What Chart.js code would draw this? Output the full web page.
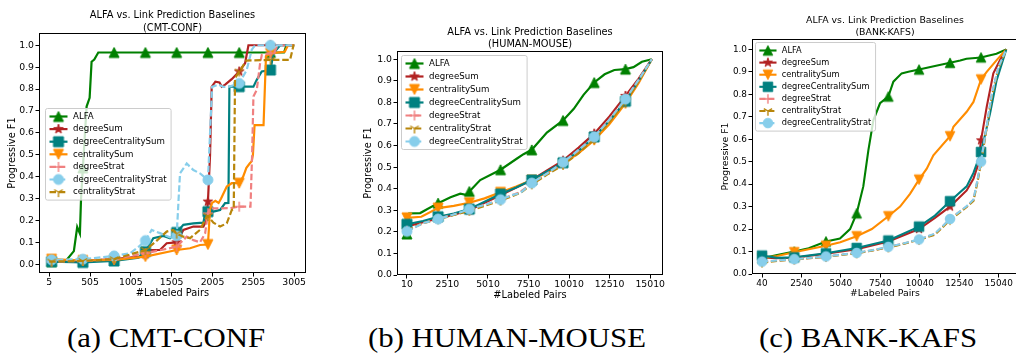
<!DOCTYPE html>
<html>
<head>
<meta charset="utf-8">
<title>ALFA vs. Link Prediction Baselines</title>
<script src="https://cdn.jsdelivr.net/npm/chart.js@4.4.1/dist/chart.umd.min.js"></script>
<style>
  html, body { margin: 0; padding: 0; background: #fff; }
  body { position: relative; width: 1016px; height: 354px; overflow: hidden; }
  canvas { position: absolute; top: 0; }
  .caption {
    position: absolute; top: 323px;
    font-family: "Liberation Serif", "DejaVu Serif", serif; font-size: 28px; line-height: 30px;
    color: #000; white-space: nowrap;
    transform: translateX(-50%) scaleX(1.1); transform-origin: center;
  }
</style>
</head>
<body>
<canvas id="cmt" width="336" height="310" style="left:0"></canvas>
<canvas id="hm" width="336" height="310" style="left:340px"></canvas>
<canvas id="bk" width="370" height="310" style="left:676px"></canvas>
<div class="caption" style="left:166px">(a) CMT-CONF</div>
<div class="caption" style="left:507px">(b) HUMAN-MOUSE</div>
<div class="caption" style="left:868px">(c) BANK-KAFS</div>
<script>
// ---------- data: [#labeled pairs, progressive F1] ----------
const f1Ticks = [0, 0.1, 0.2, 0.3, 0.4, 0.5, 0.6, 0.7, 0.8, 0.9, 1.0];

// CMT-CONF
const cmtXTicks = [5, 505, 1005, 1505, 2005, 2505, 3005];
const cmtMarkX = [34, 417, 800, 1183, 1566, 1949, 2332, 2715];
const cmtAlfa = [[5,0.012],[34,0.012],[218,0.02],[307,0.06],[348,0.17],[381,0.14],[395,0.30],[417,0.44],[463,0.72],[500,0.76],[524,0.925],[557,0.935],[606,0.967],[800,0.967],[1183,0.967],[1566,0.967],[1949,0.967],[2332,0.967],[2715,0.967],[2880,0.967],[2910,1.0],[3005,1.0]];
const cmtDegreeSum = [[5,0.012],[34,0.015],[417,0.015],[800,0.023],[1117,0.035],[1183,0.045],[1239,0.065],[1362,0.065],[1444,0.096],[1566,0.1],[1648,0.157],[1771,0.172],[1893,0.172],[1930,0.2],[1949,0.286],[1975,0.5],[1995,0.81],[2040,0.834],[2090,0.83],[2118,0.811],[2160,0.82],[2240,0.845],[2332,0.88],[2404,0.918],[2445,1.0],[2715,1.0],[3005,1.0]];
const cmtDegCentSum = [[5,0.01],[34,0.012],[417,0.008],[800,0.015],[1100,0.03],[1183,0.058],[1280,0.119],[1403,0.129],[1484,0.119],[1566,0.145],[1648,0.18],[1771,0.187],[1893,0.19],[1920,0.24],[1949,0.24],[2016,0.24],[2098,0.248],[2159,0.279],[2200,0.28],[2212,0.811],[2332,0.811],[2506,0.811],[2547,0.842],[2608,0.88],[2715,0.887],[2751,0.963],[2833,1.0],[3005,1.0]];
const cmtCentralitySum = [[5,0.02],[34,0.023],[417,0.017],[800,0.02],[1183,0.035],[1566,0.065],[1730,0.073],[1852,0.088],[1949,0.09],[1975,0.25],[2000,0.28],[2040,0.29],[2080,0.28],[2110,0.3],[2180,0.355],[2240,0.37],[2332,0.37],[2380,0.4],[2420,0.44],[2460,0.46],[2485,0.47],[2500,0.5],[2520,0.635],[2630,0.635],[2660,0.95],[2715,0.963],[2890,0.97],[2930,1.0],[3005,1.0]];
const cmtDegreeStrat = [[5,0.012],[34,0.012],[417,0.015],[800,0.023],[1183,0.05],[1566,0.08],[1689,0.126],[1771,0.11],[1852,0.1],[1914,0.14],[1949,0.233],[1975,0.255],[2220,0.256],[2332,0.263],[2470,0.263],[2490,0.5],[2506,0.766],[2547,0.796],[2588,0.918],[2609,0.956],[2715,0.963],[2760,0.963],[2800,1.0],[3005,1.0]];
const cmtDegCentStrat = [[5,0.005],[34,0.02],[417,0.023],[800,0.038],[994,0.05],[1100,0.08],[1183,0.108],[1260,0.157],[1362,0.142],[1484,0.123],[1566,0.13],[1590,0.3],[1607,0.415],[1689,0.46],[1771,0.43],[1852,0.415],[1949,0.385],[1975,0.6],[2000,0.81],[2077,0.82],[2138,0.81],[2200,0.81],[2332,0.826],[2424,0.887],[2486,0.98],[2527,1.0],[2715,1.0],[3005,1.0]];
const cmtCentralityStrat = [[5,0.012],[34,0.012],[417,0.015],[800,0.023],[1183,0.065],[1300,0.1],[1444,0.149],[1525,0.157],[1566,0.14],[1648,0.126],[1730,0.119],[1852,0.157],[1934,0.218],[1949,0.22],[2016,0.19],[2098,0.172],[2180,0.187],[2241,0.248],[2265,0.25],[2281,0.85],[2332,0.88],[2420,0.93],[2715,0.933],[2955,0.933],[2997,1.0],[3005,1.0]];

// HUMAN-MOUSE
const hmXTicks = [10, 2510, 5010, 7510, 10010, 12510, 15010];
const hmMarkX = [10, 1935, 3860, 5785, 7710, 9635, 11560, 13485];
const hmAlfa = [[10,0.19],[150,0.285],[830,0.287],[1140,0.30],[1935,0.333],[2700,0.36],[3300,0.377],[3650,0.372],[3860,0.387],[4530,0.44],[5785,0.488],[6800,0.54],[7200,0.56],[7710,0.58],[8640,0.66],[9635,0.716],[10300,0.77],[10900,0.835],[11560,0.892],[12200,0.93],[12800,0.95],[13485,0.954],[13980,0.963],[14500,0.988],[15110,1.0]];
const hmDegreeSum = [[10,0.225],[1000,0.245],[1935,0.262],[2900,0.28],[3860,0.3],[4800,0.335],[5785,0.37],[6750,0.405],[7710,0.44],[8650,0.485],[9635,0.53],[10600,0.59],[11560,0.655],[12500,0.735],[13485,0.83],[14300,0.91],[15110,1.0]];
const hmCentralitySum = [[10,0.265],[900,0.27],[1935,0.31],[2900,0.32],[3860,0.335],[4800,0.355],[5785,0.383],[6750,0.41],[7710,0.44],[8650,0.475],[9635,0.515],[10600,0.565],[11560,0.625],[12500,0.7],[13485,0.795],[14300,0.89],[15110,1.0]];
const hmDegCentSum = [[10,0.235],[1000,0.25],[1935,0.27],[2900,0.285],[3860,0.305],[4800,0.34],[5785,0.375],[6750,0.405],[7710,0.44],[8650,0.48],[9635,0.52],[10600,0.575],[11560,0.64],[12500,0.715],[13485,0.805],[14300,0.9],[15110,1.0]];
const hmDegreeStrat = [[10,0.205],[1000,0.24],[1935,0.26],[2900,0.28],[3860,0.3],[4800,0.325],[5785,0.348],[6500,0.37],[7000,0.385],[7710,0.425],[8650,0.47],[9635,0.515],[10600,0.575],[11560,0.64],[12500,0.72],[13485,0.815],[14300,0.9],[15110,1.0]];
const hmCentralityStrat = [[10,0.205],[1000,0.24],[1935,0.258],[2900,0.278],[3860,0.298],[4800,0.32],[5785,0.345],[6500,0.365],[7000,0.38],[7710,0.42],[8650,0.465],[9635,0.51],[10600,0.565],[11560,0.63],[12500,0.71],[13485,0.805],[14300,0.9],[15110,1.0]];
const hmDegCentStrat = [[10,0.202],[1000,0.24],[1935,0.259],[2900,0.28],[3860,0.305],[4800,0.325],[5785,0.349],[6500,0.37],[7000,0.38],[7710,0.426],[8650,0.47],[9635,0.522],[10600,0.58],[11560,0.64],[12500,0.72],[13485,0.815],[14300,0.905],[15110,1.0]];

// BANK-KAFS
const bkXTicks = [40, 2540, 5040, 7540, 10040, 12540, 15040];
const bkMarkX = [40, 2085, 4095, 6040, 8045, 9990, 11955, 13920];
const bkAlfa = [[40,0.07],[1000,0.085],[2085,0.10],[3000,0.115],[4095,0.145],[4980,0.158],[5620,0.2],[6040,0.27],[6460,0.39],[6780,0.55],[7100,0.685],[7520,0.76],[8045,0.79],[8365,0.856],[8890,0.893],[9315,0.9],[9990,0.91],[11000,0.926],[11955,0.94],[12600,0.95],[13000,0.958],[13920,0.964],[14300,0.97],[14900,0.98],[15520,1.0]];
const bkDegreeSum = [[40,0.074],[1000,0.07],[2085,0.072],[4095,0.09],[6040,0.11],[8045,0.145],[9990,0.2],[11000,0.25],[11955,0.3],[13010,0.372],[13440,0.424],[13750,0.49],[13920,0.595],[14280,0.744],[14700,0.893],[15340,0.982],[15520,1.0]];
const bkCentralitySum = [[40,0.07],[1000,0.08],[2085,0.097],[3000,0.11],[4095,0.126],[5000,0.141],[6040,0.168],[7000,0.2],[8045,0.257],[8790,0.3],[9420,0.357],[9990,0.42],[10480,0.469],[10900,0.528],[11955,0.613],[12170,0.655],[13010,0.722],[13440,0.766],[13920,0.866],[14280,0.9],[14910,0.952],[15520,1.0]];
const bkDegCentSum = [[40,0.082],[1000,0.072],[2085,0.074],[4095,0.092],[6040,0.116],[8045,0.149],[9990,0.211],[11000,0.26],[11955,0.324],[13010,0.39],[13440,0.45],[13920,0.543],[14490,0.714],[14910,0.863],[15520,1.0]];
const bkDegreeStrat = [[40,0.055],[1000,0.06],[2085,0.065],[3000,0.07],[4095,0.077],[5000,0.085],[6040,0.093],[7000,0.105],[8045,0.12],[9000,0.135],[9990,0.153],[11000,0.178],[11955,0.245],[13010,0.3],[13440,0.33],[13700,0.42],[13920,0.5],[14280,0.655],[14600,0.8],[15020,0.92],[15520,1.0]];
const bkCentralityStrat = [[40,0.05],[1000,0.058],[2085,0.064],[3000,0.07],[4095,0.076],[5000,0.084],[6040,0.092],[7000,0.104],[8045,0.118],[9000,0.134],[9990,0.152],[11000,0.175],[11955,0.24],[13010,0.298],[13440,0.325],[13700,0.41],[13920,0.495],[14280,0.65],[14600,0.79],[15020,0.915],[15520,1.0]];
const bkDegCentStrat = [[40,0.055],[1000,0.06],[2085,0.066],[3000,0.071],[4095,0.078],[5000,0.086],[6040,0.094],[7000,0.106],[8045,0.121],[9000,0.136],[9990,0.154],[11000,0.18],[11955,0.245],[13010,0.302],[13440,0.332],[13700,0.42],[13920,0.5],[14280,0.66],[14600,0.8],[15020,0.92],[15520,1.0]];

// ---------- styling ----------
const FONT = "'DejaVu Sans', sans-serif";
const DASH = [6.5, 2.8];
const styles = {
  ALFA:                  { color: 'green',         dash: [],   marker: 'triUp' },
  degreeSum:             { color: 'firebrick',     dash: [],   marker: 'star' },
  degreeCentralitySum:   { color: 'teal',          dash: [],   marker: 'square' },
  centralitySum:         { color: 'darkorange',    dash: [],   marker: 'triDown' },
  degreeStrat:           { color: 'lightcoral',    dash: DASH, marker: 'plus' },
  degreeCentralityStrat: { color: 'skyblue',       dash: DASH, marker: 'circle' },
  centralityStrat:       { color: 'darkgoldenrod', dash: DASH, marker: 'tri' }
};

// marker glyphs drawn once into small canvases and used as pointStyle
function makeMarker(kind, color, ms) {
  const c = document.createElement('canvas');
  const s = Math.ceil(ms + 4);
  c.width = c.height = s;
  const g = c.getContext('2d');
  const m = s / 2, h = ms / 2;
  g.fillStyle = color;
  g.strokeStyle = color;
  g.lineWidth = 1;
  g.beginPath();
  if (kind === 'triUp') {
    g.moveTo(m, m - h); g.lineTo(m - h, m + h); g.lineTo(m + h, m + h); g.closePath();
  } else if (kind === 'triDown') {
    g.moveTo(m, m + h); g.lineTo(m - h, m - h); g.lineTo(m + h, m - h); g.closePath();
  } else if (kind === 'square') {
    g.rect(m - h, m - h, ms, ms);
  } else if (kind === 'circle') {
    g.arc(m, m, h, 0, Math.PI * 2);
  } else if (kind === 'star') {
    for (let i = 0; i < 10; i++) {
      const r = i % 2 ? h * 0.382 : h;
      const a = Math.PI * i / 5;
      g.lineTo(m + r * Math.sin(a), m - r * Math.cos(a));
    }
    g.closePath();
  } else if (kind === 'plus') {
    g.moveTo(m - h, m); g.lineTo(m + h, m);
    g.moveTo(m, m - h); g.lineTo(m, m + h);
  } else if (kind === 'tri') {
    // tri_down: three spokes from the centre
    g.moveTo(m, m); g.lineTo(m, m + h);
    g.moveTo(m, m); g.lineTo(m - h * 0.866, m - h * 0.5);
    g.moveTo(m, m); g.lineTo(m + h * 0.866, m - h * 0.5);
  }
  if (kind === 'plus' || kind === 'tri') {
    g.lineWidth = 1.4;
    g.stroke();
  } else {
    g.fill();
    g.stroke();
  }
  return c;
}

const panels = [
  {
    id: 'cmt', name: '(CMT-CONF)', k: 1,
    area: { left: 39, top: 33, right: 306, bottom: 273 },
    xRange: [-120, 3150], yRange: [-0.04, 1.056],
    xTicks: cmtXTicks, markX: cmtMarkX,
    titleY: [15.5, 28.5], yTitleX: 12.7, xTitleY: 293.3,
    legend: { dx: 6, top: 108, firstRow: 8, rowH: 12.6 },
    series: [
      ['ALFA', cmtAlfa], ['degreeSum', cmtDegreeSum], ['degreeCentralitySum', cmtDegCentSum],
      ['centralitySum', cmtCentralitySum], ['degreeStrat', cmtDegreeStrat],
      ['degreeCentralityStrat', cmtDegCentStrat], ['centralityStrat', cmtCentralityStrat]
    ]
  },
  {
    id: 'hm', name: '(HUMAN-MOUSE)', k: 1,
    area: { left: 57, top: 51, right: 323, bottom: 275 },
    xRange: [-600, 15800], yRange: [0, 1.038],
    xTicks: hmXTicks, markX: hmMarkX,
    titleY: [32.7, 44.5], yTitleX: 28.3, xTitleY: 295.7,
    legend: { dx: 4, top: 55, firstRow: 8, rowH: 13 },
    series: [
      ['ALFA', hmAlfa], ['degreeSum', hmDegreeSum], ['centralitySum', hmCentralitySum],
      ['degreeCentralitySum', hmDegCentSum], ['degreeStrat', hmDegreeStrat],
      ['centralityStrat', hmCentralityStrat], ['degreeCentralityStrat', hmDegCentStrat]
    ]
  },
  {
    id: 'bk', name: '(BANK-KAFS)', k: 0.955,
    area: { left: 76, top: 39, right: 342, bottom: 274 },
    xRange: [-594, 16263], yRange: [0, 1.046],
    xTicks: bkXTicks, markX: bkMarkX,
    titleY: [20.7, 32.7], yTitleX: 49.3, xTitleY: 293.3,
    legend: { dx: 3, top: 42, firstRow: 8, rowH: 12.1 },
    series: [
      ['ALFA', bkAlfa], ['degreeSum', bkDegreeSum], ['centralitySum', bkCentralitySum],
      ['degreeCentralitySum', bkDegCentSum], ['degreeStrat', bkDegreeStrat],
      ['centralityStrat', bkCentralityStrat], ['degreeCentralityStrat', bkDegCentStrat]
    ]
  }
];

// full box around the plotting area
const framePlugin = {
  id: 'axesFrame',
  afterDatasetsDraw(chart) {
    const { ctx, chartArea: a } = chart;
    ctx.save();
    ctx.strokeStyle = '#000';
    ctx.lineWidth = 1;
    ctx.strokeRect(a.left + 0.5, a.top + 0.5, a.right - a.left - 1, a.bottom - a.top - 1);
    ctx.restore();
  }
};

// two-line title centred over the axes
const titlePlugin = {
  id: 'twoLineTitle',
  afterDraw(chart, args, o) {
    const { ctx, chartArea: a } = chart;
    ctx.save();
    ctx.font = `${o.size}px ${FONT}`;
    ctx.fillStyle = '#000';
    ctx.textAlign = 'center';
    ctx.textBaseline = 'middle';
    const cx = (a.left + a.right) / 2;
    o.lines.forEach((t, i) => ctx.fillText(t, cx, o.y[i]));
    ctx.restore();
  }
};

// framed legend inside the axes: line sample, marker and label per row
const legendPlugin = {
  id: 'boxLegend',
  afterDatasetsDraw(chart, args, o) {
    const { ctx, chartArea: a } = chart;
    const k = o.k;
    ctx.save();
    ctx.font = `${o.size}px ${FONT}`;
    const textW = Math.max(...o.items.map(it => ctx.measureText(it.label).width));
    const x0 = Math.round(a.left + o.dx) + 0.5;
    const y0 = Math.round(o.top) + 0.5;
    const w = 27.5 * k + textW + 4.5 * k;
    const h = 2 * o.firstRow + o.rowH * (o.items.length - 1);
    ctx.beginPath();
    if (ctx.roundRect) ctx.roundRect(x0, y0, w, h, 2); else ctx.rect(x0, y0, w, h);
    ctx.fillStyle = 'rgba(255,255,255,0.8)';
    ctx.fill();
    ctx.strokeStyle = '#cccccc';
    ctx.lineWidth = 1;
    ctx.stroke();
    o.items.forEach((it, i) => {
      const cy = y0 + o.firstRow + i * o.rowH;
      ctx.beginPath();
      ctx.setLineDash(it.dash);
      ctx.strokeStyle = it.color;
      ctx.lineWidth = 2.2 * k;
      ctx.moveTo(x0 + 4 * k, cy);
      ctx.lineTo(x0 + 22 * k, cy);
      ctx.stroke();
      ctx.setLineDash([]);
      ctx.drawImage(it.marker, x0 + 13 * k - it.marker.width / 2, cy - it.marker.height / 2);
      ctx.fillStyle = '#000';
      ctx.textAlign = 'left';
      ctx.textBaseline = 'middle';
      ctx.fillText(it.label, x0 + 27.5 * k, cy);
    });
    ctx.restore();
  }
};

function buildChart(p) {
  const canvas = document.getElementById(p.id);
  const W = canvas.width, H = canvas.height;
  const k = p.k;
  const tickFont = { family: FONT, size: 9.3 * k };
  const labelFont = { family: FONT, size: 9.8 * k, lineHeight: 1.2 };
  const half = labelFont.size * 0.6;
  const n = p.series.length;

  const items = [];
  const datasets = p.series.map(([name, pts], i) => {
    const st = styles[name];
    const marker = makeMarker(st.marker, st.color, 10 * k);
    items.push({ label: name, color: st.color, dash: st.dash.map(d => d * k), marker });
    return {
      label: name,
      data: pts.map(([x, y]) => ({ x, y })),
      borderColor: st.color,
      backgroundColor: st.color,
      borderWidth: 2.2 * k,
      borderDash: st.dash.map(d => d * k),
      pointStyle: marker,
      pointRadius: ctx => (ctx.raw && p.markX.includes(ctx.raw.x)) ? 5 : 0,
      pointHoverRadius: 0,
      pointHitRadius: 0,
      tension: 0,
      fill: false,
      order: n - i
    };
  });

  const grid = { drawOnChartArea: false, drawTicks: true, tickLength: 3.5, tickColor: '#000', tickWidth: 1 };

  return new Chart(canvas, {
    type: 'line',
    data: { datasets },
    plugins: [framePlugin, legendPlugin, titlePlugin],
    options: {
      responsive: false,
      animation: false,
      devicePixelRatio: 1,
      events: [],
      layout: { padding: { left: 0, top: p.area.top, right: W - p.area.right, bottom: 0 } },
      scales: {
        x: {
          type: 'linear',
          min: p.xRange[0], max: p.xRange[1],
          afterBuildTicks: s => { s.ticks = p.xTicks.map(v => ({ value: v })); },
          afterFit: s => { s.height = H - p.area.bottom; },
          ticks: { font: tickFont, color: '#000', padding: 0.5, maxRotation: 0, autoSkip: false, callback: v => String(v) },
          grid,
          border: { display: false },
          title: { display: true, text: '#Labeled Pairs', font: labelFont, color: '#000',
                   padding: { top: 0, bottom: H - p.xTitleY - half } }
        },
        y: {
          type: 'linear',
          min: p.yRange[0], max: p.yRange[1],
          afterBuildTicks: s => { s.ticks = f1Ticks.map(v => ({ value: v })); },
          afterFit: s => { s.width = p.area.left; },
          ticks: { font: tickFont, color: '#000', padding: 1.5, callback: v => v.toFixed(1) },
          grid,
          border: { display: false },
          title: { display: true, text: 'Progressive F1', font: labelFont, color: '#000',
                   padding: { top: p.yTitleX - half, bottom: 0 } }
        }
      },
      plugins: {
        legend: { display: false },
        tooltip: { enabled: false },
        twoLineTitle: { lines: ['ALFA vs. Link Prediction Baselines', p.name], y: p.titleY, size: 9.8 * k },
        boxLegend: Object.assign({ items, k, size: 8.65 * k }, p.legend)
      }
    }
  });
}

panels.forEach(buildChart);
</script>
</body>
</html>
